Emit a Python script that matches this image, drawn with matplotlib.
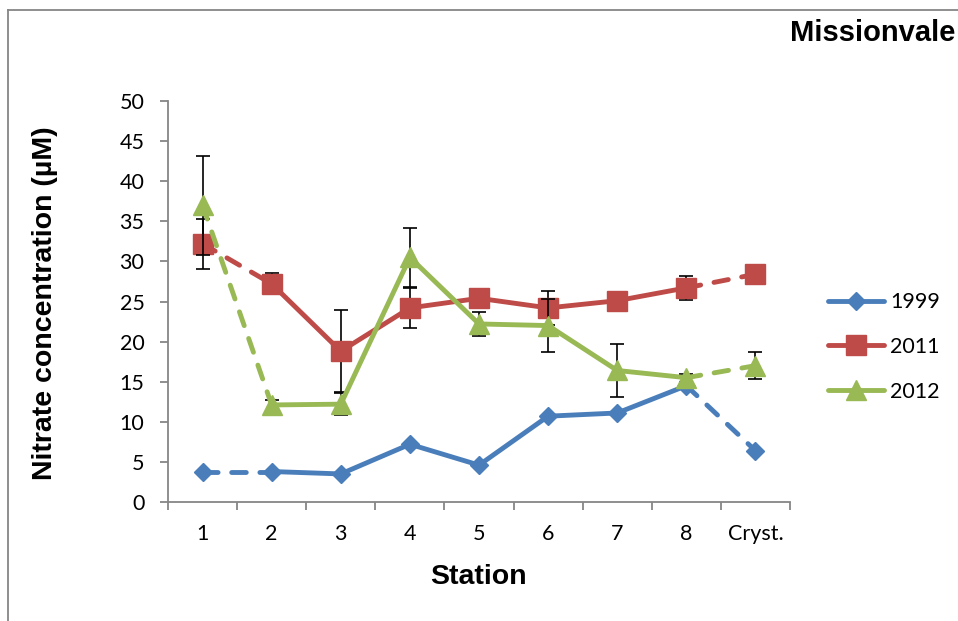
import matplotlib
matplotlib.use("Agg")
import matplotlib.pyplot as plt
from matplotlib.lines import Line2D
import numpy as np

stations = ["1", "2", "3", "4", "5", "6", "7", "8", "Cryst."]
series_names = ["1999", "2011", "2012"]
v1999 = [3.8, 3.8, 3.5, 7.2, 4.6, 10.7, 11.1, 14.5, 6.4]
v2011 = [32.2, 27.2, 18.8, 24.2, 25.4, 24.2, 25.1, 26.7, 28.4]
v2012 = [37.0, 12.1, 12.2, 30.5, 22.2, 22.0, 16.4, 15.5, 17.0]
e2011 = [3.1, 1.3, 5.1, 2.5, 0.5, 2.1, 0.5, 1.5, 0.8]
e2012 = [6.2, 0.6, 1.4, 3.7, 1.5, 3.3, 3.3, 0.5, 1.7]
yticks = [0, 5, 10, 15, 20, 25, 30, 35, 40, 45, 50]

colors = ["#4A7EBB", "#BE4B48", "#98B954"]
markers = ["D", "s", "^"]
msizes = [9, 14, 14]
values = [v1999, v2011, v2012]
errors = [None, e2011, e2012]

W, H = 958, 621
fig = plt.figure(figsize=(W / 100, H / 100), dpi=100)
ax = fig.add_axes([168 / W, 1 - 502 / H, (790 - 168) / W, (502 - 101) / H])

tick_font = "Lato"
bold_font = "Liberation Sans"
tick_size = 15.5
lw = 3.5
x = np.arange(len(stations))

handles = []
for i, (vals, err) in enumerate(zip(values, errors)):
    c = colors[i]
    z = 3 + i * 3
    vals = np.array(vals)
    if err is not None:
        ax.errorbar(x, vals, yerr=err, fmt="none", ecolor="black",
                    elinewidth=1.2, capsize=4.7, capthick=1.2, zorder=z)
    # dashed first and last segments
    for seg in ([0, 1], [7, 8]):
        ax.plot(x[seg], vals[seg], color=c, lw=lw, ls=(0, (3.0, 2.8)),
                dash_capstyle="round", zorder=z + 1)
    ax.plot(x[1:8], vals[1:8], color=c, lw=lw, solid_capstyle="round",
            solid_joinstyle="round", zorder=z + 1)
    ax.plot(x, vals, ls="none", marker=markers[i], ms=msizes[i], color=c,
            mec=c, zorder=z + 2)
    handles.append(Line2D([0], [0], color=c, lw=lw, marker=markers[i],
                          ms=msizes[i], mec=c, solid_capstyle="round"))

ax.set_xlim(-0.5, len(stations) - 0.5)
ax.set_ylim(0, 50)
ax.set_yticks(yticks)
ax.set_xticks(np.arange(-0.5, len(stations), 1.0))
ax.set_xticklabels([])
ax.set_xticks(x, minor=True)
ax.set_xticklabels(stations, minor=True)
for s in ["top", "right"]:
    ax.spines[s].set_visible(False)
for s in ["left", "bottom"]:
    ax.spines[s].set_color("#868686")
    ax.spines[s].set_linewidth(1.3)
ax.tick_params(axis="both", which="major", direction="out", length=6,
               width=1.3, color="#868686")
ax.tick_params(axis="x", which="minor", length=0, pad=16)
ax.tick_params(axis="y", which="major", pad=11)
for lab in ax.get_yticklabels() + ax.get_xticklabels(minor=True):
    lab.set_fontfamily(tick_font)
    lab.set_fontsize(tick_size)

fig.text(45 / W, 1 - 303 / H, "Nitrate concentration (µM)", rotation=90,
         ha="center", va="center", fontsize=20.5, fontweight="bold",
         family=bold_font)
fig.text(478 / W, 1 - 577 / H, "Station", ha="center", va="center",
         fontsize=20.5, fontweight="bold", family=bold_font)
fig.text(955 / W, 1 - 33 / H, "Missionvale", ha="right", va="center",
         fontsize=21, fontweight="bold", family=bold_font)

leg = fig.legend(handles, series_names, loc="center left",
                 bbox_to_anchor=(828 / W, 1 - 347 / H), frameon=False,
                 borderpad=0, borderaxespad=0, handlelength=2.6,
                 handletextpad=0.3, labelspacing=1.15, numpoints=1,
                 prop={"family": tick_font, "size": tick_size})

# outer chart border (left and top visible)
fig.add_artist(Line2D([8 / W, 8 / W], [0, 1 - 10 / H], color="#868686",
                      lw=1.3, transform=fig.transFigure))
fig.add_artist(Line2D([8 / W, 1.0], [1 - 10 / H, 1 - 10 / H], color="#868686",
                      lw=1.3, transform=fig.transFigure))

fig.savefig("out.png", dpi=100)
